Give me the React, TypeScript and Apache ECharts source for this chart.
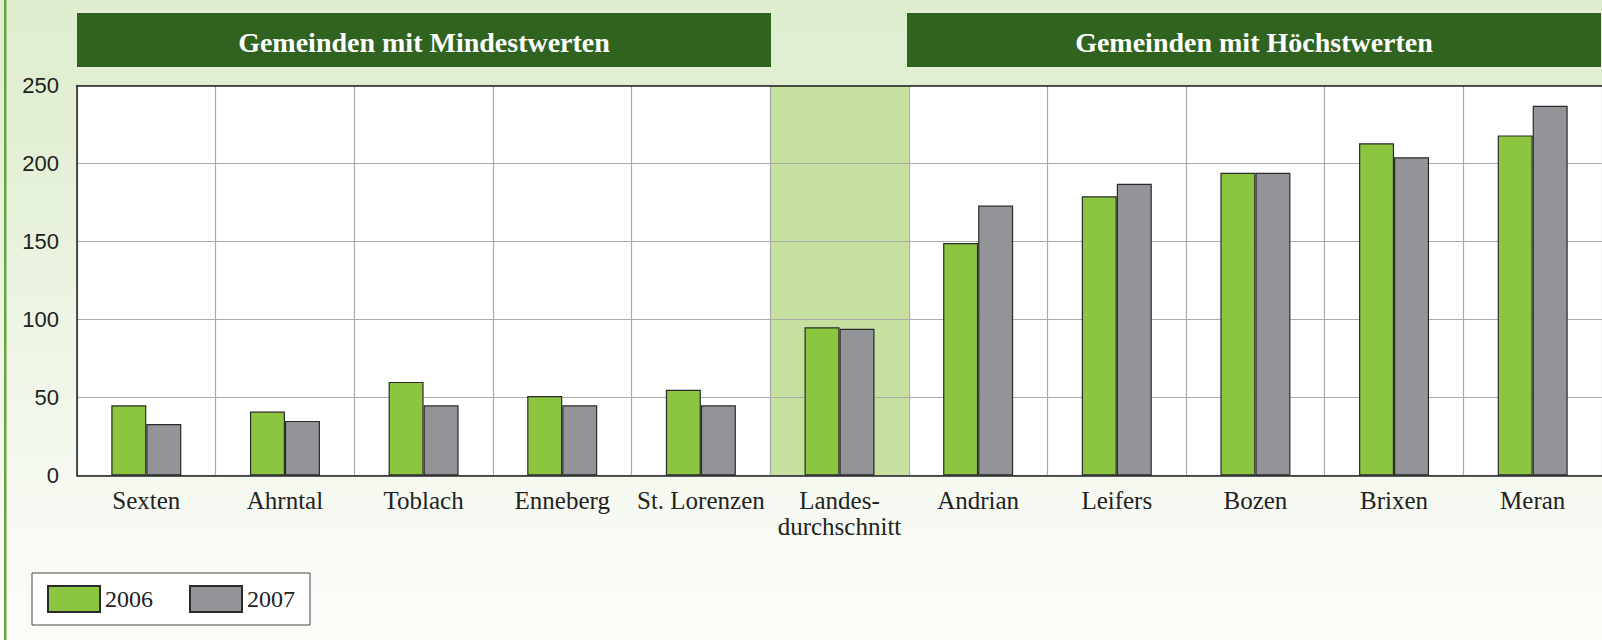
import React, { useEffect, useRef } from "react";
import * as echarts from "echarts";

const categories = [
  "Sexten",
  "Ahrntal",
  "Toblach",
  "Enneberg",
  "St. Lorenzen",
  "Landes-\ndurchschnitt",
  "Andrian",
  "Leifers",
  "Bozen",
  "Brixen",
  "Meran",
];
const values2006 = [45, 41, 60, 51, 55, 95, 149, 179, 194, 213, 218];
const values2007 = [33, 35, 45, 45, 45, 94, 173, 187, 194, 204, 237];
const seriesNames = ["2006", "2007"];
const highlightCategory = "Landes-\ndurchschnitt";
const yMin = 0;
const yMax = 250;
const yInterval = 50;
const headerLeft = "Gemeinden mit Mindestwerten";
const headerRight = "Gemeinden mit Höchstwerten";

const GREEN = "#8cc53f";
const GRAY = "#939497";
const DARK_GREEN = "#2f631f";
const HIGHLIGHT = "#c5e09f";
const SERIF = "'Liberation Serif', 'Times New Roman', serif";
const SANS = "'Liberation Sans', Arial, sans-serif";

export default function App() {
  const ref = useRef<HTMLDivElement>(null);

  useEffect(() => {
    if (!ref.current) return;
    const chart = echarts.init(ref.current, undefined, { renderer: "svg" });

    const highlightData = categories.map((c) => (c === highlightCategory ? yMax : null));

    const option: any = {
      animation: false,
      backgroundColor: {
        type: "linear",
        x: 0,
        y: 0,
        x2: 0,
        y2: 1,
        colorStops: [
          { offset: 0, color: "#dfedcf" },
          { offset: 0.2, color: "#e2efd4" },
          { offset: 0.75, color: "#f5f9f0" },
          { offset: 1, color: "#fbfdf9" },
        ],
      },
      grid: {
        left: 77,
        top: 85.5,
        width: 1526,
        height: 390,
        show: true,
        backgroundColor: "#ffffff",
        borderWidth: 0,
        z: -5,
      },
      legend: {
        data: seriesNames,
        left: 32,
        top: 573,
        orient: "horizontal",
        padding: [12, 15],
        itemWidth: 52,
        itemHeight: 26,
        itemGap: 36,
        icon: "rect",
        backgroundColor: "#ffffff",
        borderColor: "#444",
        borderWidth: 1,
        borderRadius: 0,
        textStyle: { fontFamily: SERIF, fontSize: 24, color: "#222" },
      },
      xAxis: [
        {
          type: "category",
          data: categories,
          boundaryGap: true,
          axisLine: { show: true, lineStyle: { color: "#222", width: 1.5 } },
          axisTick: { show: false },
          splitLine: { show: true, interval: 0, lineStyle: { color: "#aaaaaa", width: 1.2 } },
          axisLabel: {
            interval: 0,
            fontFamily: SERIF,
            fontSize: 25,
            color: "#222",
            lineHeight: 26,
            margin: 12,
          },
        },
        {
          type: "category",
          data: categories,
          position: "top",
          boundaryGap: true,
          axisLine: { show: true, lineStyle: { color: "#222", width: 1.5 } },
          axisTick: { show: false },
          axisLabel: { show: false },
          splitLine: { show: false },
        },
      ],
      yAxis: {
        type: "value",
        min: yMin,
        max: yMax,
        interval: yInterval,
        axisLine: { show: true, lineStyle: { color: "#222", width: 1.5 } },
        axisTick: { show: false },
        splitLine: { show: true, lineStyle: { color: "#aaaaaa", width: 1.2 } },
        axisLabel: { fontFamily: SANS, fontSize: 22, color: "#222", margin: 18 },
      },
      graphic: [
        {
          type: "rect",
          left: 4,
          top: 0,
          shape: { width: 2.5, height: 640 },
          style: { fill: "#6aa33e" },
          silent: true,
        },
        {
          type: "group",
          left: 77,
          top: 13,
          children: [
            { type: "rect", shape: { x: 0, y: 0, width: 694, height: 54 }, style: { fill: DARK_GREEN } },
            {
              type: "text",
              x: 347,
              y: 29,
              style: {
                text: headerLeft,
                fill: "#ffffff",
                font: `bold 28px ${SERIF}`,
                align: "center",
                verticalAlign: "middle",
              },
            },
          ],
        },
        {
          type: "group",
          left: 907,
          top: 13,
          children: [
            { type: "rect", shape: { x: 0, y: 0, width: 694, height: 54 }, style: { fill: DARK_GREEN } },
            {
              type: "text",
              x: 347,
              y: 29,
              style: {
                text: headerRight,
                fill: "#ffffff",
                font: `bold 28px ${SERIF}`,
                align: "center",
                verticalAlign: "middle",
              },
            },
          ],
        },
      ],
      series: [
        {
          name: "highlight",
          type: "bar",
          xAxisIndex: 1,
          yAxisIndex: 0,
          data: highlightData,
          barWidth: "100%",
          itemStyle: { color: HIGHLIGHT },
          z: -1,
          silent: true,
        },
        {
          name: seriesNames[0],
          type: "bar",
          xAxisIndex: 0,
          data: values2006,
          barWidth: 35,
          barGap: "0%",
          itemStyle: { color: GREEN, borderColor: "#2a2a2a", borderWidth: 1.2 },
          z: 3,
        },
        {
          name: seriesNames[1],
          type: "bar",
          xAxisIndex: 0,
          data: values2007,
          barWidth: 35,
          barGap: "0%",
          itemStyle: { color: GRAY, borderColor: "#2a2a2a", borderWidth: 1.2 },
          z: 3,
        },
      ],
    };

    chart.setOption(option);
    return () => chart.dispose();
  }, []);

  return (
    <div
      ref={ref}
      style={{ position: "absolute", left: 0, top: 0, width: 1602, height: 640 }}
    />
  );
}
